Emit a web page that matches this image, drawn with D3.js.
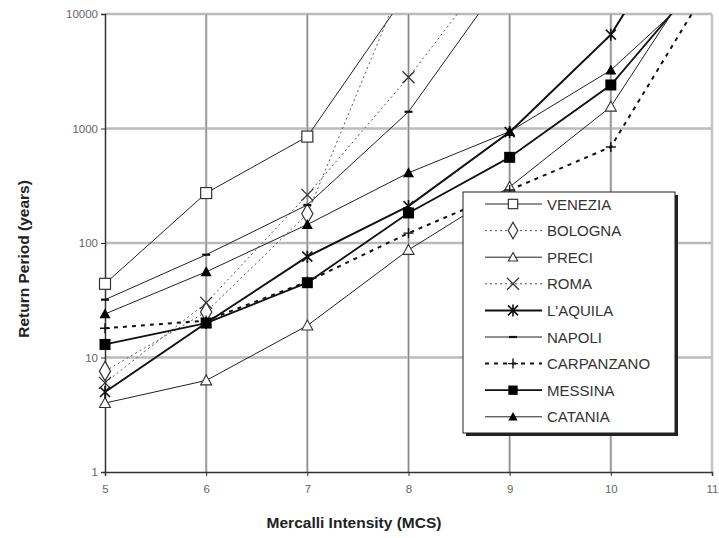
<!DOCTYPE html>
<html>
<head>
<meta charset="utf-8">
<script src="https://cdn.jsdelivr.net/npm/d3@7"></script>
<style>
  body { margin: 0; background: #fff; }
  svg { display: block; font-family: "Liberation Sans", Arial, sans-serif; }
</style>
</head>
<body>
<svg id="chart" width="719" height="538"></svg>
<script>
// intensities (MCS) and return periods in years
var intensity = [5, 6, 7, 8, 9, 10, 11];
var venezia    = [44, 273, 850, 16000];
var bologna    = [7.6, 25, 180, 25000];
var preci      = [4.0, 6.3, 19, 87, 309, 1550, 35000];
var roma       = [6.0, 30, 263, 2800, 39000];
var laquila    = [5.0, 20, 76, 210, 930, 6600, 170000];
var napoli     = [32, 79, 215, 1400, 24000];
var carpanzano = [18, 21, 46, 122, 290, 690, 19600];
var messina    = [13, 20, 45, 183, 560, 2400, 26000];
var catania    = [24, 56, 145, 410, 940, 3230, 21000];

var yTicks = [1, 10, 100, 1000, 10000];
var xTicks = [5, 6, 7, 8, 9, 10, 11];

var series = [
  {name: "VENEZIA",    values: venezia,    dash: null,   width: 1,   color: "#222", marker: "squareOpen"},
  {name: "BOLOGNA",    values: bologna,    dash: "2,3",  width: 1,   color: "#555", marker: "diamondOpen"},
  {name: "PRECI",      values: preci,      dash: null,   width: 1,   color: "#222", marker: "triangleOpen"},
  {name: "ROMA",       values: roma,       dash: "2,3",  width: 1,   color: "#555", marker: "cross"},
  {name: "L'AQUILA",   values: laquila,    dash: null,   width: 2,   color: "#111", marker: "asterisk"},
  {name: "NAPOLI",     values: napoli,     dash: null,   width: 1,   color: "#222", marker: "dash"},
  {name: "CARPANZANO", values: carpanzano, dash: "4,5",  width: 2,   color: "#111", marker: "plus"},
  {name: "MESSINA",    values: messina,    dash: null,   width: 1.8, color: "#111", marker: "squareFilled"},
  {name: "CATANIA",    values: catania,    dash: null,   width: 1,   color: "#222", marker: "triangleFilled"}
];

var svg = d3.select("#chart");
var plotLeft = 105, plotRight = 712, plotTop = 14, plotBottom = 472;

var x = d3.scaleLinear().domain([5, 11]).range([plotLeft, plotRight]);
var y = d3.scaleLog().domain([1, 10000]).range([plotBottom, plotTop]);

svg.append("defs").append("clipPath").attr("id", "plotclip")
  .append("rect").attr("x", plotLeft - 8).attr("y", plotTop)
  .attr("width", plotRight - plotLeft + 16).attr("height", plotBottom - plotTop + 8);

// grid
var grid = svg.append("g");
grid.selectAll(".hg").data(yTicks.slice(1)).enter().append("line")
  .attr("x1", plotLeft).attr("x2", plotRight)
  .attr("y1", function(d){ return y(d); }).attr("y2", function(d){ return y(d); })
  .attr("stroke", "#bbb").attr("stroke-width", 2.5);
grid.selectAll(".vg").data(xTicks.slice(1)).enter().append("line")
  .attr("x1", function(d){ return x(d); }).attr("x2", function(d){ return x(d); })
  .attr("y1", plotTop).attr("y2", plotBottom)
  .attr("stroke", "#c4c4c4").attr("stroke-width", 2.5);
grid.selectAll(".vg2").data(xTicks.slice(1, -1)).enter().append("line")
  .attr("x1", function(d){ return x(d); }).attr("x2", function(d){ return x(d); })
  .attr("y1", plotTop).attr("y2", plotBottom)
  .attr("stroke", "#777").attr("stroke-width", 0.8);

// axes
var yAxis = d3.axisLeft(y).tickValues(yTicks).tickFormat(d3.format("d")).tickSize(4).tickPadding(3);
var gy = svg.append("g").attr("transform", "translate(" + plotLeft + ",0)").call(yAxis);
var xAxis = d3.axisBottom(x).tickValues(xTicks).tickFormat(d3.format("d")).tickSize(4).tickPadding(9);
var gx = svg.append("g").attr("transform", "translate(0," + plotBottom + ")").call(xAxis);
[gy, gx].forEach(function(g){
  g.select(".domain").attr("stroke", "#333").attr("stroke-width", 1.5);
  g.selectAll(".tick line").attr("stroke", "#333");
  g.selectAll(".tick text").attr("fill", "#666").style("font-size", "11.5px");
});

// marker drawing
function drawMarker(g, type, s){
  s = s || 1;
  var h = 5.5 * s;
  switch(type){
    case "squareOpen":
      g.append("rect").attr("x", -h).attr("y", -h).attr("width", 2*h).attr("height", 2*h)
        .attr("fill", "#fff").attr("stroke", "#333").attr("stroke-width", 1.2); break;
    case "squareFilled":
      g.append("rect").attr("x", -h).attr("y", -h).attr("width", 2*h).attr("height", 2*h)
        .attr("fill", "#000"); break;
    case "diamondOpen":
      g.append("path").attr("d", d3.symbol(d3.symbolDiamond, 110*s*s)())
        .attr("fill", "#fff").attr("stroke", "#333").attr("stroke-width", 1.2); break;
    case "triangleOpen":
      g.append("path").attr("d", "M0," + (-h) + "L" + h + "," + h*0.8 + "L" + (-h) + "," + h*0.8 + "Z")
        .attr("fill", "#fff").attr("stroke", "#333").attr("stroke-width", 1.1); break;
    case "triangleFilled":
      g.append("path").attr("d", "M0," + (-h) + "L" + h + "," + h*0.8 + "L" + (-h) + "," + h*0.8 + "Z")
        .attr("fill", "#000"); break;
    case "cross":
      g.append("path").attr("d", "M-6,-6L6,6M-6,6L6,-6")
        .attr("stroke", "#333").attr("stroke-width", 1.3).attr("fill", "none"); break;
    case "asterisk":
      g.append("path").attr("d", "M-5,-5L5,5M-5,5L5,-5M0,-6L0,6")
        .attr("stroke", "#111").attr("stroke-width", 1.6).attr("fill", "none"); break;
    case "dash":
      g.append("path").attr("d", "M-4,0L4,0")
        .attr("stroke", "#111").attr("stroke-width", 2.2).attr("fill", "none"); break;
    case "plus":
      g.append("path").attr("d", "M-5,0L5,0M0,-5L0,5")
        .attr("stroke", "#111").attr("stroke-width", 1.4).attr("fill", "none"); break;
  }
}

var plot = svg.append("g").attr("clip-path", "url(#plotclip)");
var line = d3.line()
  .x(function(d, i){ return x(intensity[i]); })
  .y(function(d){ return y(d); });

series.forEach(function(s){
  plot.append("path").datum(s.values)
    .attr("d", line)
    .attr("fill", "none")
    .attr("stroke", s.color)
    .attr("stroke-width", s.width)
    .attr("stroke-dasharray", s.dash);
});
series.forEach(function(s){
  s.values.forEach(function(v, i){
    if (v > 10000) return;
    var g = plot.append("g").attr("transform", "translate(" + x(intensity[i]) + "," + y(v) + ")");
    drawMarker(g, s.marker, 1);
  });
});

// legend
var lx = 463, ly = 192, lw = 212, lh = 241;
svg.append("rect").attr("x", lx + 3).attr("y", ly + 3).attr("width", lw).attr("height", lh).attr("fill", "#222");
svg.append("rect").attr("x", lx).attr("y", ly).attr("width", lw).attr("height", lh)
  .attr("fill", "#fff").attr("stroke", "#222").attr("stroke-width", 1);
series.forEach(function(s, i){
  var ry = ly + 12 + i * 26.6;
  var g = svg.append("g");
  g.append("line").attr("x1", lx + 22).attr("x2", lx + 79).attr("y1", ry).attr("y2", ry)
    .attr("stroke", s.color).attr("stroke-width", s.width).attr("stroke-dasharray", s.dash);
  drawMarker(g.append("g").attr("transform", "translate(" + (lx + 50) + "," + ry + ")"), s.marker, 0.85);
  g.append("text").attr("x", lx + 84).attr("y", ry + 5.5).text(s.name)
    .attr("fill", "#333").style("font-size", "15px");
});

// axis titles
svg.append("text").attr("x", 354).attr("y", 528).attr("text-anchor", "middle")
  .style("font-size", "15.5px").style("font-weight", "bold").attr("fill", "#222")
  .text("Mercalli Intensity (MCS)");
svg.append("text").attr("transform", "translate(29,259) rotate(-90)").attr("text-anchor", "middle")
  .style("font-size", "15.5px").style("font-weight", "bold").attr("fill", "#222")
  .text("Return Period (years)");
</script>
</body>
</html>
